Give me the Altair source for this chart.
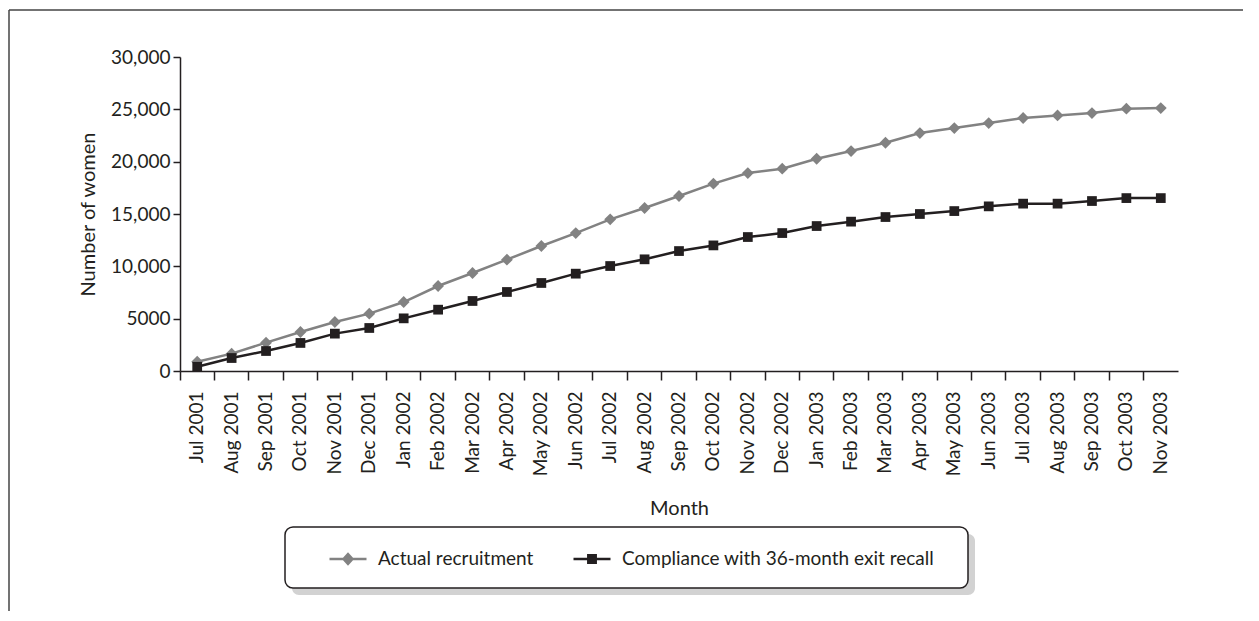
import altair as alt
import pandas as pd

months = ["Jul 2001", "Aug 2001", "Sep 2001", "Oct 2001", "Nov 2001", "Dec 2001",
          "Jan 2002", "Feb 2002", "Mar 2002", "Apr 2002", "May 2002", "Jun 2002",
          "Jul 2002", "Aug 2002", "Sep 2002", "Oct 2002", "Nov 2002", "Dec 2002",
          "Jan 2003", "Feb 2003", "Mar 2003", "Apr 2003", "May 2003", "Jun 2003",
          "Jul 2003", "Aug 2003", "Sep 2003", "Oct 2003", "Nov 2003"]

actual = [890, 1660, 2710, 3725, 4680, 5480, 6590, 8120, 9360, 10640, 11940, 13180,
          14490, 15570, 16720, 17900, 18910, 19330, 20280, 21010, 21810, 22730,
          23210, 23690, 24170, 24420, 24640, 25060, 25120]

compliance = [400, 1240, 1910, 2680, 3570, 4110, 5030, 5860, 6690, 7550, 8410, 9300,
              10030, 10670, 11460, 12000, 12800, 13180, 13850, 14270, 14710, 15000,
              15280, 15730, 15990, 15990, 16240, 16520, 16520]

series_names = ["Actual recruitment", "Compliance with 36-month exit recall"]
series_colors = ["#828282", "#231f20"]
y_ticks = [0, 5000, 10000, 15000, 20000, 25000, 30000]

rows = []
for m, a, c in zip(months, actual, compliance):
    rows.append({"month": m, "series": series_names[0], "value": a})
    rows.append({"month": m, "series": series_names[1], "value": c})
df = pd.DataFrame(rows)

FONT = "Lato"
INK = "#231f20"

x_enc = alt.X("month:N", sort=months,
              scale=alt.Scale(type="band", paddingInner=0, paddingOuter=0),
              axis=alt.Axis(title="Month", bandPosition=0, labelAngle=270,
                            labelAlign="right", labelBaseline="middle",
                            tickSize=9, labelPadding=11, titleY=127,
                            titleBaseline="top", titleFontWeight="normal"))
y_enc = alt.Y("value:Q", scale=alt.Scale(domain=[0, 30000], nice=False),
              axis=alt.Axis(title="Number of women", values=y_ticks, grid=False,
                            tickSize=7, labelPadding=3,
                            labelExpr="datum.value >= 10000 ? format(datum.value, ',') : format(datum.value, 'd')",
                            titleX=-92, titleY=157, titleAngle=270,
                            titleAlign="center", titleBaseline="middle",
                            titleFontWeight="normal"))

stroke_scale = alt.Scale(domain=series_names, range=series_colors)
fill_scale = alt.Scale(domain=series_names, range=series_colors)
# legend glyphs: short line with a marker in the middle
legend_shapes = ["M-1,0H1M0,-0.26L0.24,0L0,0.26L-0.24,0Z",
                 "M-1,0H1M-0.2,-0.2H0.2V0.2H-0.2Z"]
shape_scale = alt.Scale(domain=series_names, range=legend_shapes)

leg = alt.Legend(
    title=None, orient="none", direction="horizontal", legendX=148, legendY=482,
    padding=0, columnPadding=34, labelOffset=10, labelLimit=600,
    labelFontSize=19, labelColor=INK, labelFont=FONT, symbolSize=1369,
    symbolStrokeWidth=2.5, symbolOpacity=1,
)

base = alt.Chart(df)
lines = base.mark_line(strokeWidth=2.5).encode(
    x=x_enc, y=y_enc, stroke=alt.Stroke("series:N", scale=stroke_scale, legend=leg))
pts_a = base.mark_point(filled=True, opacity=1, strokeWidth=0, shape="diamond", size=140).encode(
    x=x_enc, y=y_enc, fill=alt.Fill("series:N", scale=fill_scale, legend=leg)
).transform_filter(alt.datum.series == series_names[0])
pts_c = base.mark_point(filled=True, opacity=1, strokeWidth=0, shape="square", size=95).encode(
    x=x_enc, y=y_enc, fill=alt.Fill("series:N", scale=fill_scale, legend=leg)
).transform_filter(alt.datum.series == series_names[1])

legend_layer = base.mark_point(filled=True, opacity=1, strokeWidth=2.5, size=1369).encode(
    x=x_enc, y=y_enc,
    stroke=alt.Stroke("series:N", scale=stroke_scale, legend=leg),
    fill=alt.Fill("series:N", scale=fill_scale, legend=leg),
    shape=alt.Shape("series:N", scale=shape_scale, legend=leg),
).transform_filter("false")

deco = pd.DataFrame({"k": [0]})
shadow = alt.Chart(deco).mark_rect(color="#d2d2d2", cornerRadius=7).encode(
    x=alt.value(112), x2=alt.value(795), y=alt.value(477), y2=alt.value(538))
box = alt.Chart(deco).mark_rect(fill="white", stroke=INK, strokeWidth=1.5, cornerRadius=8).encode(
    x=alt.value(105), x2=alt.value(788), y=alt.value(470), y2=alt.value(531))
frame_top = alt.Chart(deco).mark_rule(color="#444444", strokeWidth=1.5).encode(
    x=alt.value(-171), x2=alt.value(1063), y=alt.value(-47))
frame_left = alt.Chart(deco).mark_rule(color="#444444", strokeWidth=1.5).encode(
    x=alt.value(-171), y=alt.value(-47), y2=alt.value(556))

chart = alt.layer(frame_top, frame_left, shadow, box, lines, pts_a, pts_c, legend_layer).properties(
    width=998, height=314,
    autosize=alt.AutoSizeParams(type="none"),
    padding={"left": 172, "top": 49, "right": 65, "bottom": 240},
).configure(font=FONT).configure_view(stroke=None).configure_axis(
    labelFont=FONT, titleFont=FONT, labelFontSize=19, titleFontSize=20,
    labelColor=INK, titleColor=INK, domainColor=INK, tickColor=INK,
    domainWidth=1.5, tickWidth=1.5,
)

chart.save("out.html", embed_options={"renderer": "svg", "actions": False})
